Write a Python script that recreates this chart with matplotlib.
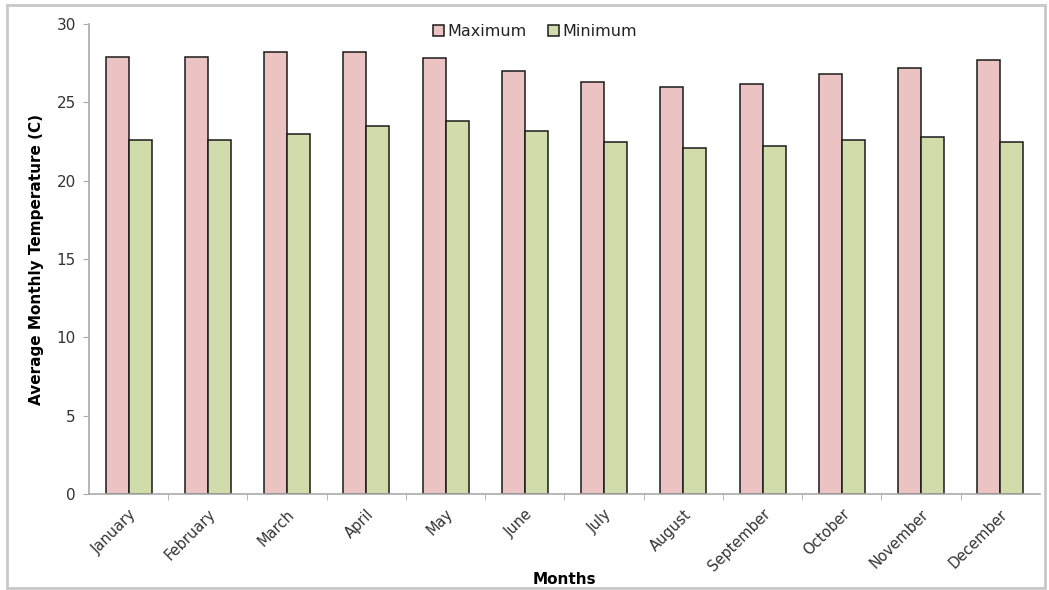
import matplotlib.pyplot as plt
import numpy as np
from matplotlib.patches import Rectangle

# Datos de temperatura mensual
months = ['January', 'February', 'March', 'April', 'May', 'June', 'July',
          'August', 'September', 'October', 'November', 'December']
t_max = [27.9, 27.9, 28.2, 28.2, 27.8, 27.0, 26.3, 26.0, 26.2, 26.8, 27.2, 27.7]
t_min = [22.6, 22.6, 23.0, 23.5, 23.8, 23.2, 22.5, 22.1, 22.2, 22.6, 22.8, 22.5]

plt.rcParams['font.family'] = ['DejaVu Sans']

fig = plt.figure(figsize=(10.49, 5.90), dpi=100)
ax = fig.add_axes([0.0848, 0.1627, 0.9065, 0.7966])

# Marco gris alrededor de toda la figura
fig.patches.append(Rectangle((0.007, 0.004), 0.989, 0.988, transform=fig.transFigure,
                             fill=False, edgecolor='#c8c8c8', linewidth=2))

x = np.arange(len(months))
w = 0.29
ax.bar(x - w / 2, t_max, w, color='#ecc3c3', edgecolor='#1a1a1a', linewidth=1.1, label='Maximum')
ax.bar(x + w / 2, t_min, w, color='#d0dcaa', edgecolor='#1a1a1a', linewidth=1.1, label='Minimum')

ax.set_xlim(-0.5, len(months) - 0.5)
ax.set_ylim(0, 30)
ax.set_yticks([0, 5, 10, 15, 20, 25, 30])

# Marcas del eje x entre categorias
ax.set_xticks(x)
ax.set_xticklabels(months, rotation=45, ha='right', rotation_mode='anchor', fontsize=10.5, color='#333333')
ax.tick_params(axis='x', length=0, pad=9)
ax.set_xticks(np.arange(0.5, len(months) - 0.5, 1), minor=True)
ax.tick_params(axis='x', which='minor', length=4.5, color='#aaaaaa', direction='out')
ax.tick_params(axis='y', length=4.5, color='#aaaaaa', direction='out', labelsize=11, labelcolor='#333333', pad=5)

for s in ['top', 'right']:
    ax.spines[s].set_visible(False)
for s in ['left', 'bottom']:
    ax.spines[s].set_color('#aaaaaa')
    ax.spines[s].set_linewidth(1.2)

ax.set_ylabel('Average Monthly Temperature (C)', fontsize=11, fontweight='bold', labelpad=9)
ax.set_xlabel('Months', fontsize=11, fontweight='bold', labelpad=0)
ax.xaxis.set_label_coords(0.5, -0.165)

ax.legend(loc='upper center', bbox_to_anchor=(0.51, 0.983), bbox_transform=fig.transFigure,
          ncol=2, frameon=False, fontsize=11.5, handlelength=0.7, handleheight=0.7,
          handletextpad=0.2, columnspacing=1.3, labelcolor='#222222')

fig.savefig('out.png', dpi=100)
